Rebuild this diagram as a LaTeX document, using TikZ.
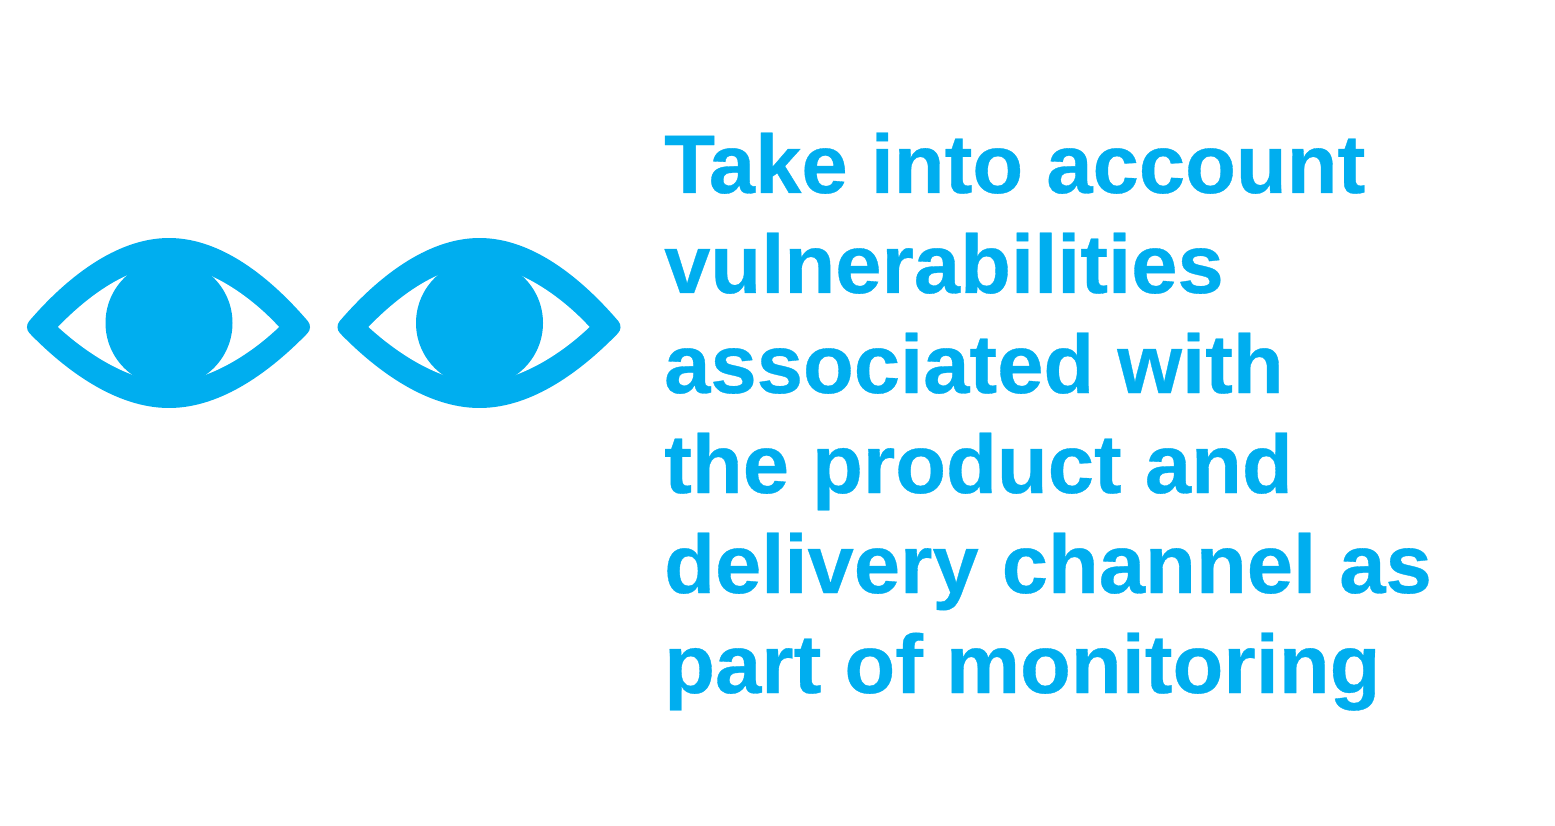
\documentclass[tikz,border=0pt]{standalone}
\usepackage{fontspec}
\setmainfont[BoldFeatures={FakeBold=0.4}]{Liberation Sans}
\definecolor{eyeblue}{HTML}{00AEEF}
\tikzset{
 lid/.style={draw=eyeblue,fill=eyeblue,line width=18pt,line join=round},
 white eye/.style={fill=white,draw=none},
 iris/.style={fill=eyeblue,draw=none},
 caption/.style={anchor=base west,inner sep=0pt,text=eyeblue,font=\fontsize{83.2pt}{83.2pt}\selectfont\bfseries}
}
\newcommand{\oneeye}[1]{%
\begin{scope}[shift={(#1,0)}]
\draw[lid] (36,327) .. controls (72,285) and (120,247) .. (169,247) .. controls (218,247) and (265,285) .. (301,327) .. controls (265,364) and (218,399) .. (169,399) .. controls (120,399) and (72,364) .. (36,327) -- cycle;
\fill[white eye] (58,327) .. controls (80,304) and (105,285) .. (128,275) -- (209,275) .. controls (232,285) and (258,304) .. (279,327) .. controls (258,347) and (232,365) .. (205,375) -- (133,375) .. controls (106,365) and (80,347) .. (58,327) -- cycle;
\fill[iris] (169,323) circle (63.5);
\end{scope}}
\begin{document}
\begin{tikzpicture}[x=1pt,y=-1pt]
\useasboundingbox (0,0) rectangle (1555,826);
\oneeye{0}
\oneeye{310.5}
\node[caption] (l1) at (664,193) {Take into account};
\node[caption] (l2) at (664,293) {vulnerabilities};
\node[caption] (l3) at (664,393) {associated with};
\node[caption] (l4) at (664,493) {the product and};
\node[caption] (l5) at (664,593) {delivery channel as};
\node[caption] (l6) at (664,693) {part of monitoring};
\end{tikzpicture}
\end{document}
